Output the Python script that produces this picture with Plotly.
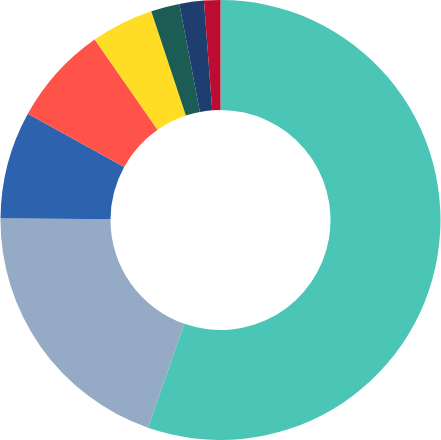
import plotly.graph_objects as go

labels = ["A", "B", "C", "D", "E", "F", "G", "H"]
values = [55.4, 19.8, 7.9, 7.3, 4.6, 2.1, 1.8, 1.2]
colors = ["#4AC5B6", "#95AAC4", "#2D63AE", "#FF5249", "#FFDD25", "#1B5C55", "#1E3E70", "#BC0C31"]

fig = go.Figure(go.Pie(
    labels=labels,
    values=values,
    hole=0.5,
    sort=False,
    direction="clockwise",
    rotation=0,
    marker=dict(colors=colors, line=dict(color="white", width=0)),
    textinfo="none",
    hoverinfo="label+percent",
))
fig.update_layout(
    width=441, height=440,
    margin=dict(l=0, r=0, t=0, b=0),
    showlegend=False,
    paper_bgcolor="white",
    plot_bgcolor="white",
)
fig.write_html("out.html", config={"displayModeBar": False},
               post_script="document.body.style.margin='0';")
